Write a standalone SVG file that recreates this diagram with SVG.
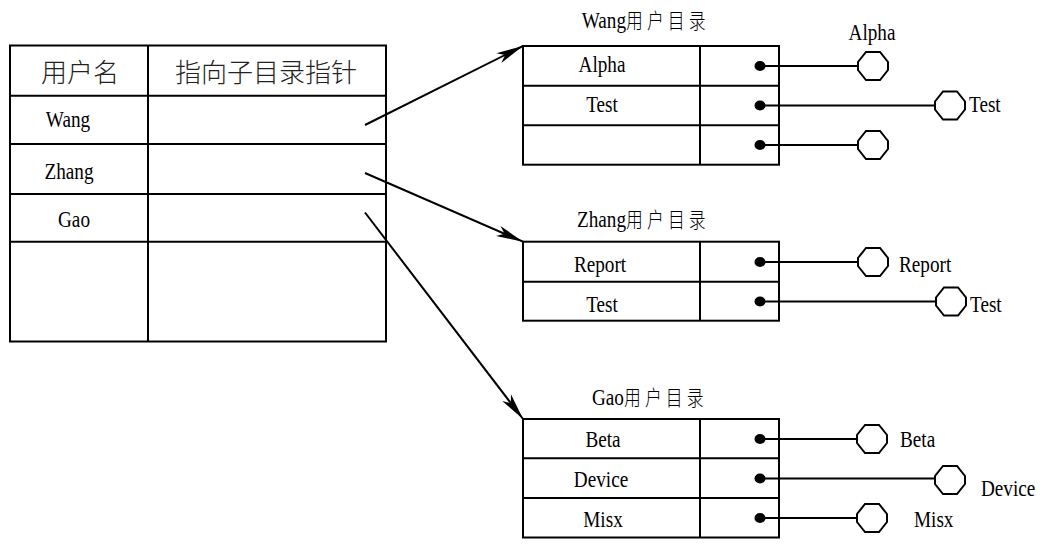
<svg xmlns="http://www.w3.org/2000/svg" width="1051" height="553" viewBox="0 0 1051 553">
<style>
.ln{stroke:#000;stroke-width:2;fill:none}
.bx{stroke:#000;stroke-width:2;fill:none}
.t{font-family:"Liberation Serif","Noto Sans CJK SC",serif;font-size:24px;fill:#000}
.m{text-anchor:middle}
.zh{font-family:"Noto Sans CJK SC","Noto Sans CJK JP",sans-serif;font-size:21px;font-weight:300;letter-spacing:5.2px}
.hd{font-family:"Noto Sans CJK SC","Noto Sans CJK JP",sans-serif;font-size:26px;font-weight:300;text-anchor:middle;fill:#222}
.oct{fill:#fff;stroke:#000;stroke-width:2}
.cn{stroke:#000;stroke-width:1.8;fill:none}
.ptr{stroke:#000;stroke-width:2}
</style>
<defs>
<polygon id="oc" class="oct" points="-7,-14 7,-14 15,-4 15,4 7,14 -7,14 -15,4 -15,-4"/>
<ellipse id="dt" rx="5.5" ry="5" fill="#000"/>
<marker id="ah" markerUnits="userSpaceOnUse" markerWidth="30" markerHeight="14" refX="28" refY="7" orient="auto" overflow="visible">
<path d="M28,7 L1,1.5 L8,7 L1,12.5 Z" fill="#000"/>
</marker>
</defs>
<rect width="1051" height="553" fill="#fff"/>

<g id="user-table">
<rect class="bx" x="10" y="45.5" width="376" height="296"/>
<line class="ln" x1="10" y1="95.7" x2="386" y2="95.7"/>
<line class="ln" x1="10" y1="144" x2="386" y2="144"/>
<line class="ln" x1="10" y1="194" x2="386" y2="194"/>
<line class="ln" x1="10" y1="241.7" x2="386" y2="241.7"/>
<line class="ln" x1="148" y1="45.5" x2="148" y2="341.5"/>
<text class="hd" x="80" y="81.5">用户名</text>
<text class="hd" x="266" y="81.5">指向子目录指针</text>
<text class="t m" transform="translate(68,127) scale(0.8,1)">Wang</text>
<text class="t m" transform="translate(69,178.5) scale(0.8,1)">Zhang</text>
<text class="t m" transform="translate(74,227) scale(0.8,1)">Gao</text>
</g>

<g id="wang-dir">
<text class="t" transform="translate(581.7,28) scale(0.8,1)">Wang<tspan class="zh">用户目录</tspan></text>
<rect class="bx" x="523" y="46" width="256" height="118.7"/>
<line class="ln" x1="523" y1="85.7" x2="779" y2="85.7"/>
<line class="ln" x1="523" y1="125.3" x2="779" y2="125.3"/>
<line class="ln" x1="700" y1="46" x2="700" y2="164.7"/>
<text class="t m" transform="translate(602,72) scale(0.8,1)">Alpha</text>
<text class="t m" transform="translate(602,112) scale(0.8,1)">Test</text>
<use href="#dt" x="760" y="66"/>
<use href="#dt" x="760" y="105.5"/>
<use href="#dt" x="760" y="145"/>
</g>

<g id="zhang-dir">
<text class="t" transform="translate(577,226.7) scale(0.8,1)">Zhang<tspan class="zh">用户目录</tspan></text>
<rect class="bx" x="523" y="241.7" width="256" height="79"/>
<line class="ln" x1="523" y1="281.7" x2="779" y2="281.7"/>
<line class="ln" x1="700" y1="241.7" x2="700" y2="320.7"/>
<text class="t m" transform="translate(600,271.7) scale(0.8,1)">Report</text>
<text class="t m" transform="translate(602,311.5) scale(0.8,1)">Test</text>
<use href="#dt" x="760" y="262"/>
<use href="#dt" x="760" y="301.5"/>
</g>

<g id="gao-dir">
<text class="t" transform="translate(592,405) scale(0.8,1)">Gao<tspan class="zh">用户目录</tspan></text>
<rect class="bx" x="523" y="419" width="256" height="118.5"/>
<line class="ln" x1="523" y1="458.3" x2="779" y2="458.3"/>
<line class="ln" x1="523" y1="498" x2="779" y2="498"/>
<line class="ln" x1="700" y1="419" x2="700" y2="537.5"/>
<text class="t m" transform="translate(603,447) scale(0.8,1)">Beta</text>
<text class="t m" transform="translate(601,487) scale(0.8,1)">Device</text>
<text class="t m" transform="translate(603,526.5) scale(0.8,1)">Misx</text>
<use href="#dt" x="760" y="439"/>
<use href="#dt" x="760" y="478.5"/>
<use href="#dt" x="760" y="518"/>
</g>

<g id="connectors">
<line class="ptr" x1="365" y1="125" x2="523" y2="46" marker-end="url(#ah)"/>
<line class="ptr" x1="365" y1="173" x2="523" y2="241.7" marker-end="url(#ah)"/>
<line class="ptr" x1="365" y1="212.5" x2="523" y2="419" marker-end="url(#ah)"/>
<line class="cn" x1="760" y1="66" x2="858" y2="66"/>
<line class="cn" x1="760" y1="105.5" x2="935" y2="105.5"/>
<line class="cn" x1="760" y1="145" x2="858" y2="145"/>
<line class="cn" x1="760" y1="262" x2="858" y2="262"/>
<line class="cn" x1="760" y1="301.5" x2="936" y2="301.5"/>
<line class="cn" x1="760" y1="439" x2="857" y2="439"/>
<line class="cn" x1="760" y1="478.5" x2="935" y2="478.5"/>
<line class="cn" x1="760" y1="518" x2="857" y2="518"/>
</g>

<g id="wang-alpha"><use href="#oc" x="873" y="66"/><text class="t m" transform="translate(872,40) scale(0.8,1)">Alpha</text></g>
<g id="wang-test"><use href="#oc" x="950" y="105.5"/><text class="t" transform="translate(969,112) scale(0.8,1)">Test</text></g>
<g id="wang-empty"><use href="#oc" x="873" y="145"/></g>
<g id="zhang-report"><use href="#oc" x="873" y="262"/><text class="t" transform="translate(899,271.7) scale(0.8,1)">Report</text></g>
<g id="zhang-test"><use href="#oc" x="951" y="301.5"/><text class="t" transform="translate(970,311.5) scale(0.8,1)">Test</text></g>
<g id="gao-beta"><use href="#oc" x="872" y="439"/><text class="t" transform="translate(900,447) scale(0.8,1)">Beta</text></g>
<g id="gao-device"><use href="#oc" x="950" y="480"/><text class="t" transform="translate(981,496) scale(0.8,1)">Device</text></g>
<g id="gao-misx"><use href="#oc" x="872" y="518"/><text class="t" transform="translate(914,526.5) scale(0.8,1)">Misx</text></g>
</svg>
